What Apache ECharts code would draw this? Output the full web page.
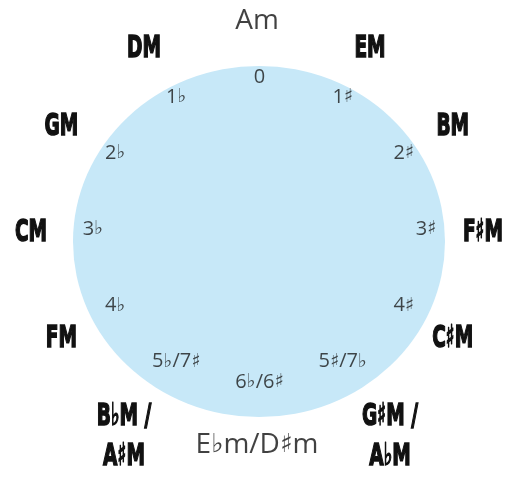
<!DOCTYPE html>
<html><head><meta charset="utf-8">
<script src="https://cdn.jsdelivr.net/npm/echarts@6/dist/echarts.min.js"></script>
<style>html,body{margin:0;padding:0;background:#fff}#c{width:505px;height:480px}</style>
</head><body><div id="c"></div>
<script>
// Minor keys around the circle of fifths, clockwise from the top
const minorKeys = ["Am", "EM", "BM", "F♯M", "C♯M", "G♯M /\nA♭M", "E♭m/D♯m", "B♭M /\nA♯M", "FM", "CM", "GM", "DM"];
// Number of accidentals for each position (same order)
const accidentals = ["0", "1♯", "2♯", "3♯", "4♯", "5♯/7♭", "6♭/6♯", "5♭/7♯", "4♭", "3♭", "2♭", "1♭"];

const W = 505, H = 480;
const disc = { cx: 259, cy: 241.5, rx: 186, ry: 175.5 };
const innerRing = { cx: 259.5, cy: 229.5, rx: 166.5, ry: 152.5 };
const outerRing = { cx: 257, cy: 233, rx: 226, ry: 212 };

function ringPos(ring, i, n) {
  const a = i * 2 * Math.PI / n;
  return [ring.cx + ring.rx * Math.sin(a), ring.cy - ring.ry * Math.cos(a)];
}
function richSymbols(p) {
  return p.name.replace(/([♭♯])/g, '{s|$1}');
}

const thinFont = '"Open Sans", "DejaVu Sans", sans-serif';
const symFont = '"DejaVu Sans", sans-serif';
const comicFont = '"DejaVu Sans", sans-serif';

const innerData = accidentals.map((t, i) => ({ name: t, value: ringPos(innerRing, i, accidentals.length) }));
const plainOuter = [], comicOuter = [];
minorKeys.forEach((t, i) => {
  const p = ringPos(outerRing, i, minorKeys.length);
  if (i % 6 === 0) plainOuter.push({ name: t, value: p });
  else comicOuter.push([p[0], p[1], i]);
});

const chart = echarts.init(document.getElementById('c'), null, { renderer: 'canvas' });
chart.setOption({
  animation: false,
  backgroundColor: '#fff',
  grid: { left: 0, right: 0, top: 0, bottom: 0 },
  xAxis: { type: 'value', min: 0, max: W, show: false },
  yAxis: { type: 'value', min: 0, max: H, inverse: true, show: false },
  series: [
    {
      type: 'custom',
      silent: true,
      data: [[disc.cx, disc.cy, disc.rx, disc.ry]],
      renderItem: function (params, api) {
        const c = api.coord([api.value(0), api.value(1)]);
        const s = api.size([api.value(2), api.value(3)]);
        const rx = Math.abs(s[0]), ry = Math.abs(s[1]);
        return {
          type: 'circle',
          x: c[0], y: c[1],
          scaleY: ry / rx,
          shape: { cx: 0, cy: 0, r: rx },
          style: { fill: '#c7e8f8' }
        };
      },
      z: 1
    },
    {
      type: 'scatter',
      symbolSize: 0,
      data: innerData,
      label: {
        show: true, position: 'inside', formatter: richSymbols,
        fontSize: 20, color: '#1a1a1a', align: 'center', verticalAlign: 'middle',
        fontFamily: thinFont, fontWeight: 'normal',
        rich: { s: { fontFamily: symFont, fontSize: 19, color: '#1a1a1a' } }
      },
      z: 3
    },
    {
      type: 'scatter',
      symbolSize: 0,
      data: plainOuter,
      label: {
        show: true, position: 'inside', formatter: richSymbols,
        fontSize: 28, color: '#111', align: 'center', verticalAlign: 'middle',
        fontFamily: thinFont, fontWeight: 'normal',
        rich: { s: { fontFamily: symFont, fontSize: 26, color: '#111' } }
      },
      z: 3
    },
    {
      type: 'custom',
      silent: true,
      data: comicOuter,
      renderItem: function (params, api) {
        const c = api.coord([api.value(0), api.value(1)]);
        const idx = api.value(2);
        const text = minorKeys[idx];
        const multi = text.indexOf('\n') >= 0;
        const side = Math.sign(Math.sin(idx * 2 * Math.PI / minorKeys.length));
        const lh = 40;
        return {
          type: 'text',
          x: c[0] + (multi ? side * 20 : 0),
          y: c[1] - (multi ? lh / 2 : 0),
          scaleX: 0.6,
          style: {
            text: text,
            fontSize: 31,
            fontWeight: 'bold',
            fontFamily: comicFont,
            lineHeight: lh,
            fill: '#111',
            stroke: '#111',
            lineWidth: 1.6,
            align: 'center',
            verticalAlign: multi ? 'top' : 'middle'
          }
        };
      },
      z: 3
    }
  ]
});
</script></body></html>
